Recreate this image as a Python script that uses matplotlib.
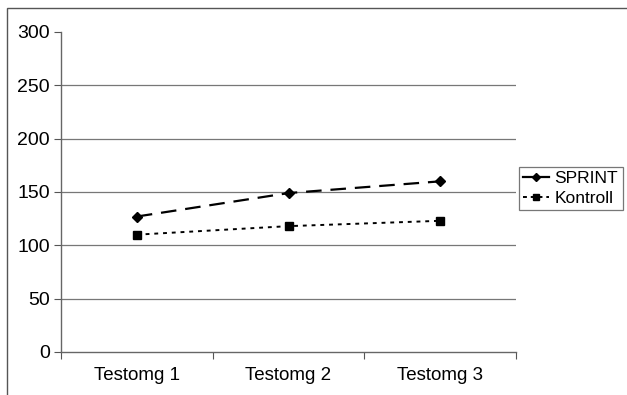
import matplotlib.pyplot as plt
from matplotlib.lines import Line2D
from matplotlib.patches import Rectangle

# ---------------------------------------------------------------------------- #
# DATA

categories = ['Testomg 1', 'Testomg 2', 'Testomg 3']
sprint = [127, 149, 160]
kontroll = [110, 118, 123]
y_ticks = [0, 50, 100, 150, 200, 250, 300]

# ---------------------------------------------------------------------------- #
# FIGURE

plt.rcParams['font.family'] = ['Liberation Sans', 'DejaVu Sans']

fig = plt.figure(figsize=(6.27, 3.95), dpi=100)
ax = fig.add_axes([61 / 627, 1 - 352 / 395, 455 / 627, 320 / 395])

x = [0.5, 1.5, 2.5]
ax.plot(x, sprint, color='black', lw=1.6, dashes=(7, 4),
        marker='D', markersize=5)
ax.plot(x, kontroll, color='black', lw=1.4, dashes=(2, 2.5),
        marker='s', markersize=5.5)

ax.set_xlim(0, 3)
ax.set_ylim(0, 300)
ax.set_yticks(y_ticks)
ax.set_xticks([0, 1, 2, 3])
ax.set_xticklabels([])
ax.set_xticks(x, minor=True)
ax.set_xticklabels(categories, minor=True, fontsize=13.5)
ax.tick_params(axis='x', which='minor', length=0, pad=11)
ax.tick_params(axis='x', which='major', length=5, color='#555555')
ax.tick_params(axis='y', length=5, labelsize=14, color='#555555', pad=3)

for v in y_ticks[1:-1]:
    ax.axhline(v, color='#777777', lw=0.9, zorder=0)

for side in ['top', 'right']:
    ax.spines[side].set_visible(False)
for side in ['left', 'bottom']:
    ax.spines[side].set_color('#666666')
    ax.spines[side].set_linewidth(1)

# Legend with solid / dashed handles like the original
handles = [
    Line2D([], [], color='black', lw=1.6, marker='D', markersize=4.5),
    Line2D([], [], color='black', lw=1.4, dashes=(2, 2), marker='s',
           markersize=5),
]
leg = fig.legend(handles, ['SPRINT', 'Kontroll'], loc='upper left',
                 bbox_to_anchor=(519 / 627, 1 - 167 / 395), fontsize=12.5,
                 frameon=True, fancybox=False, edgecolor='#555555',
                 handlelength=1.5, handletextpad=0.3, borderpad=0.25,
                 labelspacing=0.25, borderaxespad=0)
leg.get_frame().set_linewidth(0.9)

# Outer chart frame
fig.patches.append(Rectangle((7 / 627, -0.01), 1.0, 1 - 8 / 395 + 0.01,
                             transform=fig.transFigure, fill=False,
                             edgecolor='#555555', lw=1))

fig.savefig('out.png', dpi=100)
